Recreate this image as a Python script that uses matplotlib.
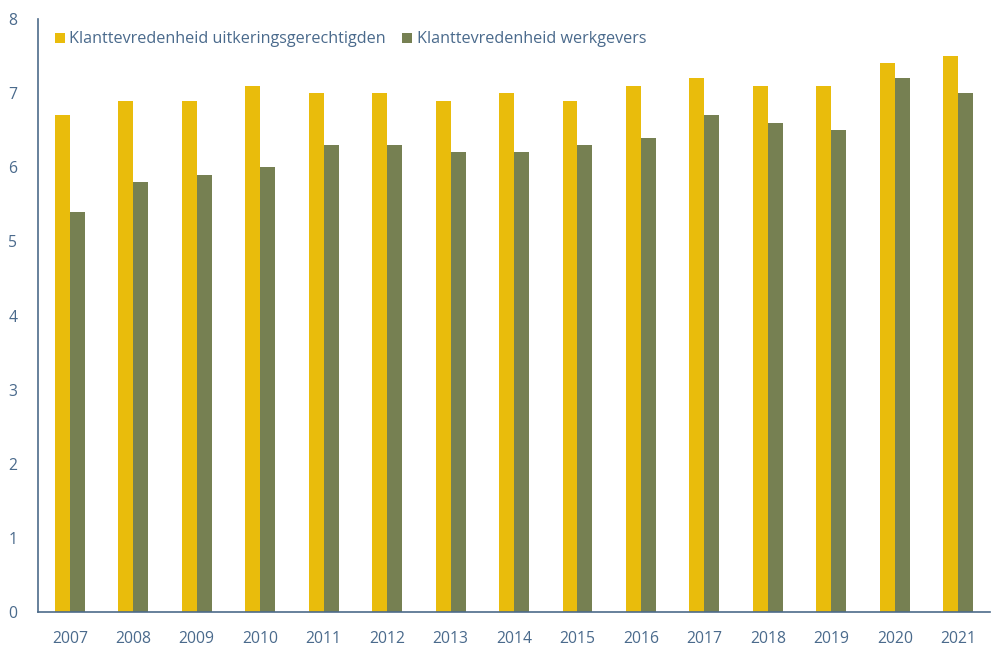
import matplotlib
matplotlib.use("Agg")
import matplotlib.pyplot as plt
import numpy as np

years = ["2007", "2008", "2009", "2010", "2011", "2012", "2013", "2014",
         "2015", "2016", "2017", "2018", "2019", "2020", "2021"]
uitkering = [6.7, 6.9, 6.9, 7.1, 7.0, 7.0, 6.9, 7.0, 6.9, 7.1, 7.2, 7.1, 7.1, 7.4, 7.5]
werkgevers = [5.4, 5.8, 5.9, 6.0, 6.3, 6.3, 6.2, 6.2, 6.3, 6.4, 6.7, 6.6, 6.5, 7.2, 7.0]
series_names = ["Klanttevredenheid uitkeringsgerechtigden", "Klanttevredenheid werkgevers"]

plt.rcParams['font.family'] = ['Open Sans', 'DejaVu Sans']
text_color = "#4a6a8c"
axis_color = "#4d6b8a"

fig = plt.figure(figsize=(9.93, 6.46), dpi=100)
ax = fig.add_axes([0.0383, 0.0526, 0.9587, 0.918])

x = np.arange(len(years))
w = 0.236
ax.bar(x - w / 2, uitkering, width=w, color="#E9BC0C", label=series_names[0], linewidth=0)
ax.bar(x + w / 2, werkgevers, width=w, color="#768052", label=series_names[1], linewidth=0)

ax.set_xlim(-0.5, len(years) - 0.5)
ax.set_ylim(0, 8)
ax.set_yticks(range(0, 9))
ax.set_xticks(x)
ax.set_xticklabels(years)
ax.tick_params(axis='both', length=0, colors=text_color, labelsize=11.3)
ax.tick_params(axis='y', pad=15)
ax.tick_params(axis='x', pad=14)
for s in ["top", "right"]:
    ax.spines[s].set_visible(False)
for s in ["left", "bottom"]:
    ax.spines[s].set_color(axis_color)
    ax.spines[s].set_linewidth(1.2)

leg = ax.legend(loc="upper left", ncol=2, frameon=False, fontsize=11.6,
                handlelength=0.6, handleheight=0.6, handletextpad=0.3,
                columnspacing=1.0, bbox_to_anchor=(0.011, 0.99), borderaxespad=0)
for t in leg.get_texts():
    t.set_color(text_color)

fig.savefig("out.png", dpi=100)
